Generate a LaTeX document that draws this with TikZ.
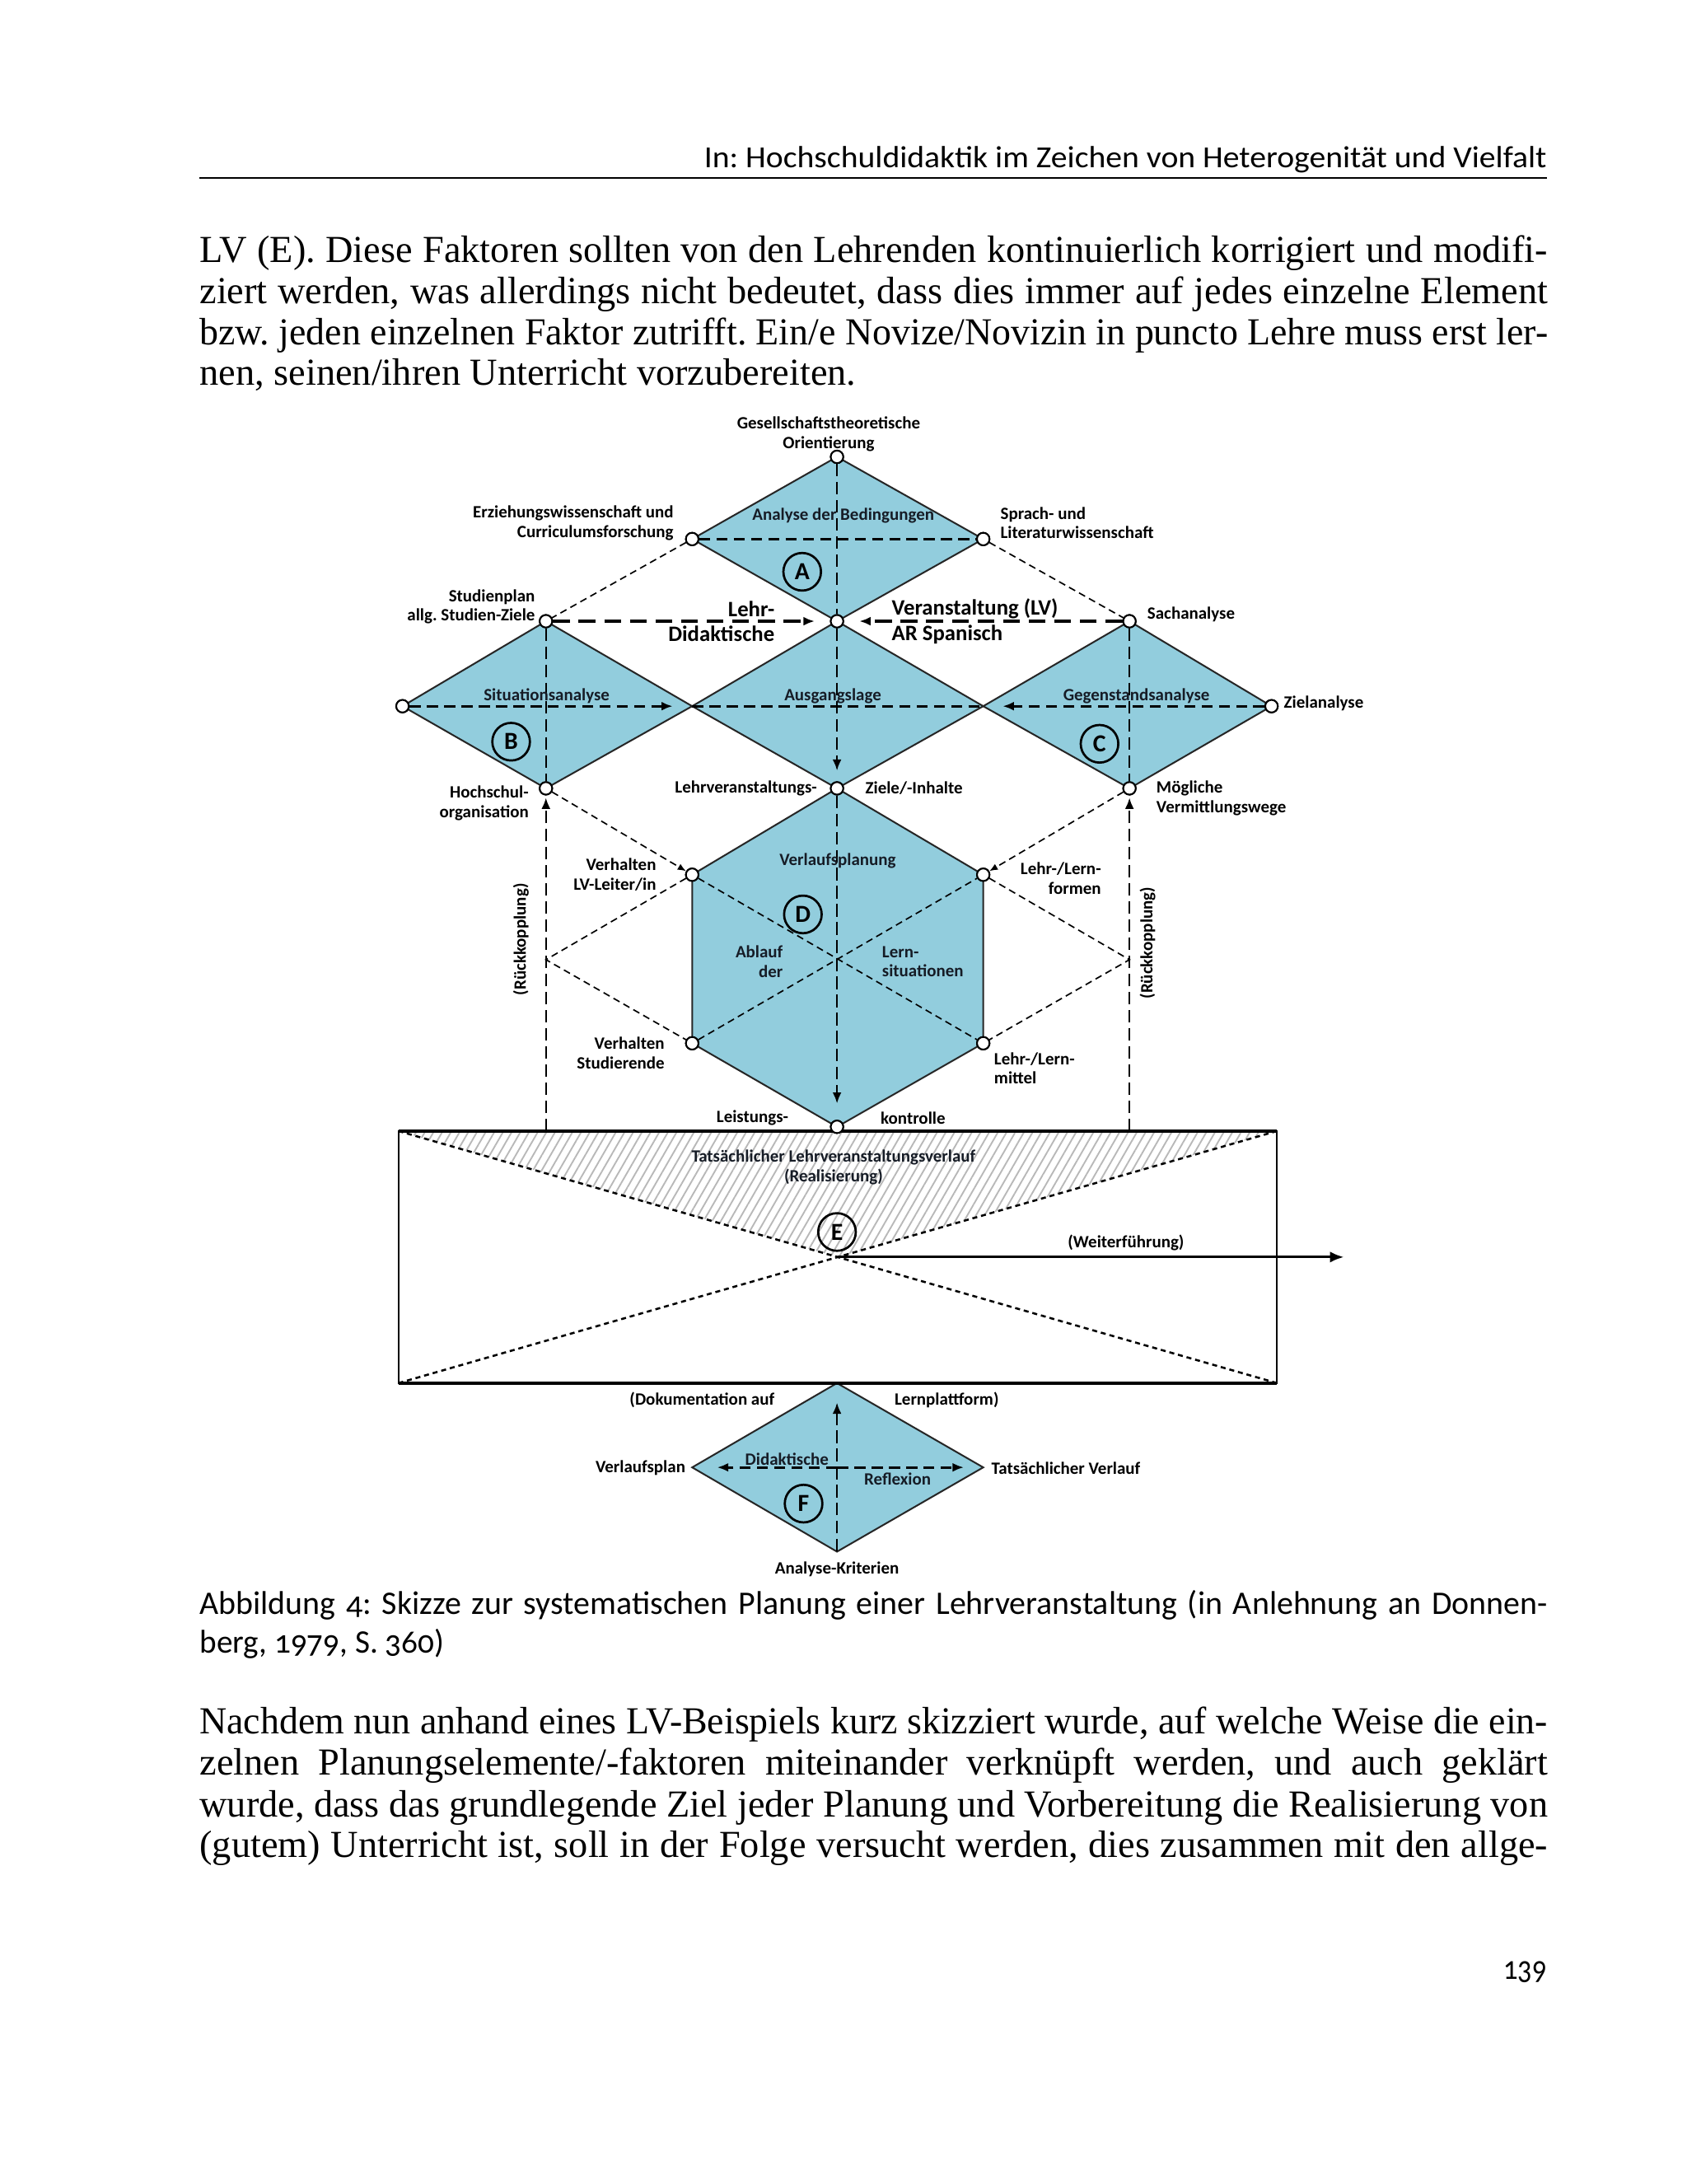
\documentclass[tikz,border=0pt]{standalone}
\usepackage{fontspec}
\setmainfont{Liberation Serif}
\newfontfamily\carl[Numbers=OldStyle]{Carlito}
\newfontfamily\lblf{Carlito}
\usetikzlibrary{arrows.meta,patterns.meta}
\definecolor{dblue}{RGB}{146,205,221}
\definecolor{intext}{RGB}{22,28,38}
\frenchspacing
\newlength\jlw
\newcommand\jline[2]{\settowidth\jlw{#2}\ifdim\jlw>#1\relax\pgfmathsetmacro\jr{#1/\jlw}\scalebox{\jr}[1]{#2}\else\makebox[#1][s]{#2}\fi}
\newcommand\fitx[2]{\settowidth\jlw{#2}\pgfmathsetmacro\jr{#1/\jlw}\scalebox{\jr}[1]{#2}}
\newcommand\bodyf{\fontsize{13.7}{16}\selectfont}
\newcommand\capf{\carl\fontsize{11.8}{13}\selectfont}
\begin{document}
\begin{tikzpicture}[x=0.5pt,y=-0.5pt,
  txt/.style={inner sep=0pt,anchor=base west},
  lbl/.style={font=\lblf\bfseries\fontsize{6.2}{7}\selectfont, inner sep=0pt, text=black},
  inl/.style={lbl, text=intext},
  big/.style={font=\lblf\bfseries\fontsize{7.9}{9}\selectfont, inner sep=0pt, text=black},
  dot/.style={circle, draw=black, fill=white, line width=0.6pt, minimum size=4.5pt, inner sep=0pt},
  letter/.style={circle, draw=black, line width=0.8pt, minimum size=13.5pt, inner sep=0pt, font=\lblf\bfseries\fontsize{8.8}{10}\selectfont},
  dmd/.style={fill=dblue, draw=black!85, line width=0.6pt, line join=miter},
  dl/.style={dash pattern=on 4.5pt off 2pt, line width=0.7pt},
  dh/.style={dash pattern=on 4pt off 2.2pt, line width=0.9pt},
  dhh/.style={dash pattern=on 6pt off 3.2pt, line width=1.1pt},
  dt/.style={dash pattern=on 2.5pt off 1.6pt, line width=0.5pt},
  dx/.style={dash pattern=on 1.8pt off 1.4pt, line width=0.75pt},
  tip/.style={-{Latex[length=4pt,width=3.2pt]}},
  stip/.style={-{Latex[length=3pt,width=2.4pt]}}]
\fill[white] (0,0) rectangle (1211,1568);
\useasboundingbox (0,0) rectangle (1211,1568);

% ---------------- page text ----------------
\node[inner sep=0pt,anchor=base east] (hdr) at (1111,120.5) {\fitx{302.5pt}{\carl\fontsize{11}{13}\selectfont In: Hochschuldidaktik im Zeichen von Heterogenität und Vielfalt}};
\coordinate (r1) at (143,127.5); \coordinate (r2) at (1111,127.5);
\draw[line width=0.6pt] (r1) -- (r2);

\node[txt] (p1a) at (143,188.2) {\bodyf\jline{484pt}{LV (E). Diese Faktoren sollten von den Lehrenden kontinuierlich korrigiert und modifi-}};
\node[txt] (p1b) at (143,217.8) {\bodyf\jline{484pt}{ziert werden, was allerdings nicht bedeutet, dass dies immer auf jedes einzelne Element}};
\node[txt] (p1c) at (143,247.4) {\bodyf\jline{484pt}{bzw. jeden einzelnen Faktor zutrifft. Ein/e Novize/Novizin in puncto Lehre muss erst ler-}};
\node[txt] (p1d) at (143,276.8) {\bodyf\fitx{235.7pt}{nen, seinen/ihren Unterricht vorzubereiten.}};

\node[txt] (c1) at (143,1159) {\capf\jline{484pt}{Abbildung 4: Skizze zur systematischen Planung einer Lehrveranstaltung (in Anlehnung an Donnen-}};
\node[txt] (c2) at (143,1186.6) {\capf\fitx{87.8pt}{berg, 1979, S. 360)}};

\node[txt] (p2a) at (143,1244.7) {\bodyf\jline{484pt}{Nachdem nun anhand eines LV-Beispiels kurz skizziert wurde, auf welche Weise die ein-}};
\node[txt] (p2b) at (143,1274.3) {\bodyf\jline{484pt}{zelnen Planungselemente/-faktoren miteinander verknüpft werden, und auch geklärt}};
\node[txt] (p2c) at (143,1304.2) {\bodyf\jline{484pt}{wurde, dass das grundlegende Ziel jeder Planung und Vorbereitung die Realisierung von}};
\node[txt] (p2d) at (143,1333.6) {\bodyf\jline{484pt}{(gutem) Unterricht ist, soll in der Folge versucht werden, dies zusammen mit den allge-}};

\node[inner sep=0pt,anchor=base east] (pg) at (1111,1421) {\fitx{15.5pt}{\carl\fontsize{12}{14}\selectfont 139}};

% ---------------- diagram coordinates ----------------
\coordinate (T) at (601,328);
\coordinate (AL) at (497,387); \coordinate (AR) at (706,387);
\coordinate (BT) at (392,446); \coordinate (M) at (601,446); \coordinate (CT) at (811,446);
\coordinate (BL) at (289,507); \coordinate (X1) at (497,507); \coordinate (X2) at (706,507); \coordinate (CR) at (913,507);
\coordinate (BB) at (392,566); \coordinate (MB) at (601,566); \coordinate (CB) at (811,566);
\coordinate (DUL) at (497,628); \coordinate (DUR) at (706,628);
\coordinate (KL) at (392,689); \coordinate (KR) at (811,689);
\coordinate (DLL) at (497,749); \coordinate (DLR) at (706,749);
\coordinate (DB) at (601,809);
\coordinate (E1) at (286,812); \coordinate (E2) at (917,812); \coordinate (E3) at (917,993); \coordinate (E4) at (286,993);
\coordinate (EC) at (601.5,902.5); \coordinate (Wend) at (965,902.5);
\coordinate (RL) at (392,812); \coordinate (RR) at (811,812);
\coordinate (FT) at (601,993); \coordinate (FL) at (497,1053.5); \coordinate (FR) at (706,1053.5);
\coordinate (FB) at (601,1114); \coordinate (FC) at (601,1053.5);

% ---------------- blue shapes ----------------
\draw[dmd] (T) -- (AR) -- (M) -- (AL) -- cycle;
\draw[dmd] (BT) -- (X1) -- (BB) -- (BL) -- cycle;
\draw[dmd] (M) -- (X2) -- (MB) -- (X1) -- cycle;
\draw[dmd] (CT) -- (CR) -- (CB) -- (X2) -- cycle;
\draw[dmd] (MB) -- (DUR) -- (DLR) -- (DB) -- (DLL) -- (DUL) -- cycle;
\draw[dmd] (FT) -- (FR) -- (FB) -- (FL) -- cycle;

% ---------------- box E ----------------
\fill[pattern={Lines[angle=60,distance=2.7pt,line width=0.55pt]}, pattern color=black!28] (E1) -- (E2) -- (EC) -- cycle;
\draw[dx] (E1) -- (E3);
\draw[dx] (E2) -- (E4);
\draw[line width=0.6pt] (E1) rectangle (E3);
\draw[line width=1.3pt] (E1) -- (E2);
\draw[line width=1.3pt] (E4) -- (E3);
\draw[line width=0.9pt,-{Latex[length=5pt,width=4pt]}] (EC) -- (Wend);

% ---------------- dots ----------------
\foreach \p in {T,AL,AR,BT,M,CT,BL,CR,BB,MB,CB,DUL,DUR,DLL,DLR,DB}
  \node[dot] (n\p) at (\p) {};

% ---------------- dashed connectors ----------------
\draw[dl] (nT) -- (nM);
\draw[dl,tip,shorten >=3.8pt] (nM) -- (nMB);
\draw[dl,tip,shorten >=5.8pt] (nMB) -- (nDB);
\draw[dh] (nAL) -- (nAR);
\draw[dhh,tip,shorten >=5.5pt] (nBT) -- (nM);
\draw[dhh,tip,shorten >=5.5pt] (nCT) -- (nM);
\draw[dh,tip,shorten >=7pt] (nBL) -- (X1);
\draw[dh] (X1) -- (X2);
\draw[dh,tip,shorten >=7pt] (nCR) -- (X2);
\draw[dl] (nBT) -- (nBB);
\draw[dl] (nCT) -- (nCB);
\draw[dl,tip,shorten >=0.8pt] (RL) -- (nBB);
\draw[dl,tip,shorten >=0.8pt] (RR) -- (nCB);
\draw[dt] (nAL) -- (nBT);
\draw[dt] (nAR) -- (nCT);
\draw[dt,stip] (nBB) -- (nDUL);
\draw[dt,stip] (nCB) -- (nDUR);
\draw[dt] (nDUL) -- (KL) -- (nDLL);
\draw[dt] (nDUR) -- (KR) -- (nDLR);
\draw[dt] (nDUL) -- (nDLR);
\draw[dt] (nDLL) -- (nDUR);
\draw[dl,tip,shorten >=7pt] (FB) -- (FT);
\draw[dh,tip,shorten >=9pt] (FC) -- (FL);
\draw[dh,tip,shorten >=7pt] (FC) -- (FR);

% redraw dots on top
\foreach \p in {T,AL,AR,BT,M,CT,BL,CR,BB,MB,CB,DUL,DUR,DLL,DLR,DB}
  \node[dot] at (\p) {};

% ---------------- letter circles ----------------
\node[letter] (cA) at (576,410.5) {A};
\node[letter] (cB) at (367,532.5) {B};
\node[letter] (cC) at (789.5,534) {C};
\node[letter] (cD) at (576.5,656.5) {D};
\node[letter] (cE) at (601,884.5) {E};
\node[letter] (cF) at (577,1079.5) {F};

% ---------------- labels ----------------
\node[lbl,align=center] (lG) at (595,311.7) {Gesellschaftstheoretische\\Orientierung};
\node[inl] (lAB) at (605.5,370) {Analyse der Bedingungen};
\node[lbl,align=right,anchor=east] (lEW) at (484,375.5) {Erziehungswissenschaft und\\Curriculumsforschung};
\node[lbl,align=left,anchor=west] (lSL) at (718,375.5) {Sprach- und\\Literaturwissenschaft};
\node[lbl,align=right,anchor=east] (lSP) at (384.5,435.5) {Studienplan\\allg. Studien-Ziele};
\node[big,align=right,anchor=east] (lLD) at (556.5,446) {Lehr-\\Didaktische};
\node[big,align=left,anchor=west] (lVA) at (640,446) {Veranstaltung (LV)\\AR Spanisch};
\node[lbl,anchor=west] (lSA) at (823.5,441) {Sachanalyse};
\node[inl] (lSit) at (392.5,499.5) {Situationsanalyse};
\node[inl] (lAus) at (598,500) {Ausgangslage};
\node[inl] (lGeg) at (816,500) {Gegenstandsanalyse};
\node[lbl,anchor=west] (lZA) at (921.5,505) {Zielanalyse};
\node[lbl,align=right,anchor=east] (lHO) at (380,576.5) {Hochschul-\\organisation};
\node[lbl,anchor=east] (lLV) at (587,566) {Lehrveranstaltungs-};
\node[lbl,anchor=west] (lZI) at (621,566) {Ziele/-Inhalte};
\node[lbl,align=left,anchor=west] (lMV) at (830,573) {Mögliche\\Vermittlungswege};
\node[inl] (lVP) at (601.5,618) {Verlaufsplanung};
\node[lbl,align=right,anchor=east] (lVL) at (471.5,628) {Verhalten\\LV-Leiter/in};
\node[lbl,align=right,anchor=east] (lLF) at (791,630.5) {Lehr-/Lern-\\formen};
\node[inl,align=right,anchor=east] (lAd) at (562.5,690.5) {Ablauf\\der};
\node[inl,align=left,anchor=west] (lLs) at (633,690.5) {Lern-\\situationen};
\node[lbl,align=right,anchor=east] (lVS) at (477.5,756) {Verhalten\\Studierende};
\node[lbl,align=left,anchor=west] (lLM) at (713.5,767) {Lehr-/Lern-\\mittel};
\node[lbl,anchor=east] (lLk) at (566.5,802.5) {Leistungs-};
\node[lbl,anchor=west] (lKo) at (632,802.5) {kontrolle};
\node[lbl,rotate=90] (lRK1) at (374,674.5) {(Rückkopplung)};
\node[lbl,rotate=90] (lRK2) at (824,677) {(Rückkopplung)};
\node[inl,align=center] (lTL) at (598.5,838) {Tatsächlicher Lehrveranstaltungsverlauf\\(Realisierung)};
\node[lbl] (lWF) at (808.5,892) {(Weiterführung)};
\node[lbl,anchor=east] (lDo) at (556.5,1005) {(Dokumentation auf};
\node[lbl,anchor=west] (lLp) at (642,1005) {Lernplattform)};
\node[lbl,anchor=east] (lVpl) at (492.5,1054) {Verlaufsplan};
\node[lbl,anchor=west] (lTV) at (711.5,1054) {Tatsächlicher Verlauf};
\node[inl] (lDi) at (565,1047.5) {Didaktische};
\node[inl] (lRe) at (644.5,1062) {Reflexion};
\node[lbl] (lAK) at (601,1126.5) {Analyse-Kriterien};
\end{tikzpicture}
\end{document}
